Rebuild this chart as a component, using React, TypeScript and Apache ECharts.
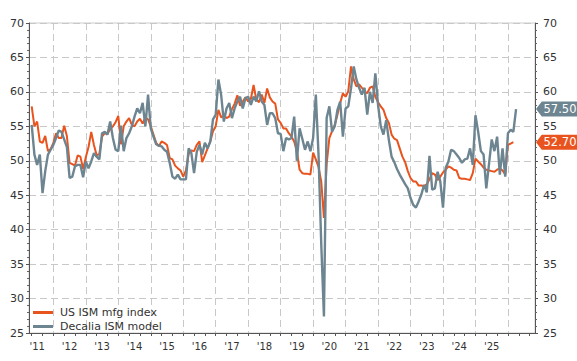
import React, { useEffect, useRef } from 'react';
import * as echarts from 'echarts';

// Monthly axis: Apr 2011 .. Nov 2026
const AXIS_FIRST_YEAR = 2011;
const AXIS_FIRST_MONTH = 4;
const AXIS_LAST_YEAR = 2026;
const AXIS_LAST_MONTH = 11;
const DATA_START = '2011-05';
const LAST_LABEL_YEAR = '2025';

const months: string[] = [];
{
  let y = AXIS_FIRST_YEAR;
  let m = AXIS_FIRST_MONTH;
  while (y < AXIS_LAST_YEAR || (y === AXIS_LAST_YEAR && m <= AXIS_LAST_MONTH)) {
    months.push(`${y}-${String(m).padStart(2, '0')}`);
    m++;
    if (m > 12) { m = 1; y++; }
  }
}

const seriesNames = ['US ISM mfg index', 'Decalia ISM model'];

const ismMfg = [
  57.9, 55.0, 55.7, 52.8, 52.6, 53.6, 51.4, 51.7, 52.6, 54.0,
  53.3, 53.3, 55.1, 53.6, 49.7, 49.5, 49.3, 50.8, 50.6, 48.8,
  50.5, 52.0, 54.2, 52.3, 50.8, 51.0, 53.5, 54.0, 53.9, 54.6,
  55.0, 55.6, 56.5, 52.4, 55.0, 55.7, 56.2, 55.2, 55.0, 55.7,
  56.1, 55.4, 56.3, 56.0, 55.0, 53.8, 52.6, 52.1, 52.8, 52.6,
  52.3, 50.4, 50.2, 49.3, 48.9, 48.6, 47.7, 48.6, 51.0, 51.5,
  51.4, 52.3, 52.8, 49.8, 50.8, 51.8, 52.8, 54.3, 55.0, 57.4,
  56.3, 56.6, 56.2, 56.4, 57.5, 58.3, 59.5, 58.0, 58.6, 59.2,
  58.6, 59.0, 61.0, 58.9, 58.5, 59.6, 58.4, 60.5, 59.2, 58.6,
  58.3, 56.0, 55.5, 54.7, 54.7, 54.0, 53.5, 52.8, 51.4, 48.7,
  48.2, 48.1, 48.1, 48.0, 51.2, 50.2, 49.1, 47.0, 41.7, 49.5,
  53.3, 54.3, 55.2, 56.7, 58.4, 59.8, 59.3, 60.1, 63.7, 61.8,
  60.8, 61.1, 60.6, 60.1, 59.8, 60.6, 60.8, 59.3, 58.5, 57.9,
  57.4, 56.2, 55.5, 53.8, 53.2, 53.0, 51.8, 50.6, 49.8, 48.5,
  47.5, 47.0, 47.0, 46.4, 46.4, 46.3, 46.6, 47.3, 48.2, 48.0,
  47.2, 47.7, 48.3, 48.7, 49.2, 49.0, 48.7, 48.6, 47.5, 47.4,
  47.4, 47.3, 47.2, 48.2, 50.3, 49.9, 49.5, 49.0, 48.7, 48.6,
  48.5, 48.4, 48.7, 48.9, 48.6, 48.0, 52.3, 52.5, 52.7,
];

const decaliaModel = [
  55.2, 50.9, 49.4, 50.9, 45.3, 48.5, 50.9, 51.6, 52.3, 53.3,
  54.4, 54.2, 53.1, 52.0, 47.5, 47.7, 49.2, 49.4, 49.4, 47.6,
  49.9, 48.9, 49.9, 51.1, 50.6, 50.2, 54.0, 54.2, 53.8, 55.7,
  53.3, 51.6, 51.4, 55.1, 51.4, 53.3, 54.0, 55.0, 56.4, 57.6,
  56.9, 58.4, 55.0, 59.6, 54.7, 53.5, 52.4, 52.2, 52.1, 51.6,
  51.3, 49.7, 47.7, 47.4, 48.0, 47.3, 47.3, 47.3, 51.8, 51.1,
  48.2, 51.3, 52.3, 50.9, 52.6, 51.8, 52.8, 56.0, 56.7, 61.8,
  59.6, 55.7, 57.6, 58.4, 56.2, 57.6, 58.6, 59.3, 57.6, 59.1,
  59.3, 58.1, 59.3, 58.6, 60.1, 58.6, 58.1, 55.2, 56.9, 56.9,
  56.2, 54.0, 53.9, 51.4, 53.3, 53.1, 53.3, 56.4, 50.0, 54.7,
  53.2, 51.6, 52.8, 51.4, 53.3, 59.6, 50.9, 38.0, 27.4, 56.2,
  57.9, 54.2, 55.0, 57.4, 58.6, 53.5, 57.6, 57.9, 60.5, 63.7,
  61.8, 60.6, 59.6, 60.6, 56.7, 60.0, 58.4, 62.7, 58.1, 55.0,
  53.8, 55.9, 53.0, 50.6, 49.8, 48.8, 48.0, 47.3, 46.6, 46.0,
  44.6, 43.6, 43.2, 44.1, 45.1, 46.5, 45.4, 50.7, 45.8, 46.0,
  48.4, 47.0, 43.2, 49.0, 49.9, 51.6, 51.4, 50.9, 50.4, 49.7,
  50.2, 50.3, 51.8, 49.4, 56.6, 54.2, 51.4, 50.9, 46.0, 49.5,
  53.1, 51.4, 53.5, 48.0, 51.8, 47.7, 54.0, 54.5, 54.2, 57.5,
];

const Y_MIN = 25;
const Y_MAX = 70;
const Y_STEP = 5;

const ORANGE = '#E9531D';
const GREY = '#6D8591';
const FONT = 'DejaVu Sans';

function pad(values: number[]): (number | null)[] {
  const offset = months.indexOf(DATA_START);
  const out: (number | null)[] = [];
  for (let i = 0; i < offset; i++) out.push(null);
  return out.concat(values);
}

function tag(color: string, value: number) {
  return {
    silent: true,
    symbol: 'path://M0,7 L6,0 L50,0 L50,14 L6,14 Z',
    symbolSize: [48, 15],
    symbolOffset: [25, 0],
    itemStyle: { color },
    label: {
      show: true,
      position: 'inside',
      color: '#ffffff',
      fontSize: 11.5,
      fontFamily: FONT,
      offset: [0, 0],
      formatter: value.toFixed(2),
    },
    data: [{ coord: [months[months.length - 1], value], value }],
  };
}

function yAxisCfg(position: 'left' | 'right') {
  return {
    type: 'value',
    position,
    min: Y_MIN,
    max: Y_MAX,
    interval: Y_STEP,
    axisLine: { show: true, lineStyle: { color: '#555', width: 1 } },
    axisTick: { show: true, length: 3, lineStyle: { color: '#555' } },
    minorTick: { show: true, splitNumber: 5, length: 2, lineStyle: { color: '#666' } },
    axisLabel: {
      color: '#333',
      fontSize: 11,
      fontFamily: FONT,
      margin: position === 'left' ? 5 : 8,
      showMinLabel: true,
      showMaxLabel: true,
    },
    splitLine: {
      show: position === 'left',
      lineStyle: { color: '#c8c8c8', type: [7, 4], width: 1 },
    },
  };
}

export default function App() {
  const ref = useRef<HTMLDivElement>(null);

  useEffect(() => {
    if (!ref.current) return;
    const chart = echarts.init(ref.current, null, { renderer: 'svg' });
    const orangeData = pad(ismMfg);
    const greyData = pad(decaliaModel);
    chart.setOption({
      animation: false,
      backgroundColor: '#ffffff',
      textStyle: { fontFamily: FONT },
      grid: {
        left: 29,
        right: 42,
        top: 23,
        bottom: 28,
        show: true,
        borderColor: '#cccccc',
        borderWidth: 1,
        backgroundColor: 'transparent',
      },
      legend: {
        data: seriesNames,
        orient: 'vertical',
        left: 33,
        top: 307,
        icon: 'rect',
        itemWidth: 20,
        itemHeight: 3,
        itemGap: 3,
        padding: 0,
        textStyle: { fontSize: 11, color: '#333', fontFamily: FONT, padding: [0, 0, 0, 2] },
      },
      xAxis: {
        type: 'category',
        data: months,
        boundaryGap: false,
        axisLine: { lineStyle: { color: '#555', width: 1 } },
        axisTick: {
          show: true,
          length: 3,
          interval: (_i: number, v: string) => ['01', '05', '09'].includes(v.slice(5)),
          lineStyle: { color: '#555' },
        },
        axisLabel: {
          interval: (_i: number, v: string) => v.slice(5) === '07' && v.slice(0, 4) <= LAST_LABEL_YEAR,
          formatter: (v: string) => "'" + v.slice(2, 4),
          color: '#333',
          fontSize: 10,
          fontFamily: FONT,
          margin: 8,
        },
        splitLine: {
          show: true,
          interval: (_i: number, v: string) => v.slice(5) === '01',
          lineStyle: { color: '#c8c8c8', type: [7, 4], width: 1 },
        },
      },
      yAxis: [yAxisCfg('left'), yAxisCfg('right')],
      series: [
        {
          name: seriesNames[0],
          type: 'line',
          data: orangeData,
          showSymbol: false,
          symbol: 'none',
          lineStyle: { color: ORANGE, width: 2 },
          itemStyle: { color: ORANGE },
          markPoint: tag(ORANGE, ismMfg[ismMfg.length - 1]),
        },
        {
          name: seriesNames[1],
          type: 'line',
          data: greyData,
          showSymbol: false,
          symbol: 'none',
          lineStyle: { color: GREY, width: 2.4 },
          itemStyle: { color: GREY },
          markPoint: tag(GREY, decaliaModel[decaliaModel.length - 1]),
        },
      ],
    });
    return () => chart.dispose();
  }, []);

  return (
    <div
      ref={ref}
      style={{ position: 'fixed', left: 0, top: 0, width: 577, height: 361 }}
    />
  );
}
